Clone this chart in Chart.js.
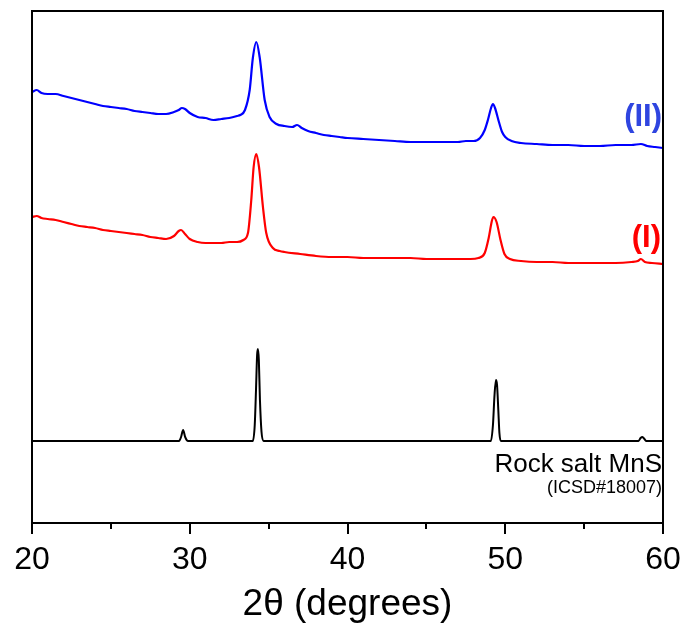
<!DOCTYPE html>
<html>
<head>
<meta charset="utf-8">
<script src="https://cdn.jsdelivr.net/npm/chart.js@4/dist/chart.umd.min.js"></script>
<style>
html,body{margin:0;padding:0;background:#fff;}
#wrap{width:685px;height:627px;}
</style>
</head>
<body>
<div id="wrap"><canvas id="c" width="685" height="627"></canvas></div>
<script>
// 2θ positions (degrees) and intensities (arbitrary units, offset traces)
const blueX = [20.0,20.3,20.6,21.0,21.5,22.0,22.5,23.0,23.5,24.0,24.5,25.0,25.5,26.0,26.5,27.0,27.5,28.0,28.5,29.0,29.3,29.5,29.7,30.0,30.5,31.0,31.5,32.0,32.5,33.0,33.2,33.5,33.8,34.0,34.22,34.43,34.75,35.06,35.5,36.0,36.5,36.8,37.1,37.5,38.0,38.5,39.0,39.5,40.0,41.0,42.0,43.0,44.0,45.0,46.0,47.0,47.5,48.0,48.4,48.7,48.9,49.1,49.22,49.35,49.6,49.8,50.0,50.4,51.0,52.0,53.0,54.0,55.0,56.0,57.0,58.0,58.6,59.0,59.5,60.0];
const blueY = [431,433,430,429,429,427,425,423,421,419,417,416,415,414,412,411,410,409,409,411,413,415,414,410,406,405,403,404,405,407,408,413,433,465,481,466,423,406,399,397,396,398,395,392,390,388,387,386,385,384,383,382,381,381,381,381,382,382,385,393,403,415,419,415,401,391,386,382,380,379,378,378,377,377,378,378,379,377,376,375];

const redX = [20.0,20.3,20.6,21.0,21.5,22.0,22.5,23.0,23.5,24.0,24.5,25.0,25.5,26.0,26.5,27.0,27.5,28.0,28.5,29.0,29.3,29.45,29.7,30.0,30.5,31.0,31.5,32.0,32.5,33.0,33.4,33.69,33.9,34.05,34.22,34.39,34.64,34.85,35.27,35.7,36.0,37.0,38.0,39.0,40.0,41.0,42.0,43.0,44.0,45.0,46.0,47.0,47.8,48.3,48.7,48.95,49.15,49.25,49.45,49.7,49.95,50.3,51.0,52.0,53.0,54.0,55.0,56.0,57.0,58.0,58.4,58.6,58.85,59.3,60.0];
const redY = [306,307,305,304,303,301,299,297,296,295,293,292,291,290,289,288,286,285,284,287,292,293,289,284,281,280,280,280,281,281,283,290,323,356,369,356,316,290,275,272,271,269,267,266,266,265,265,265,265,264,264,264,264,265,270,285,302,306,301,283,269,264,262,261,261,260,260,260,260,261,262,264,261,260,259];

const refX = [20,29.32,29.45,29.58,29.71,29.89,34.0,34.12,34.2,34.27,34.32,34.38,34.45,34.55,34.68,49.09,49.22,49.32,49.41,49.48,49.56,49.63,49.72,58.45,58.58,58.7,58.82,58.95,60];
const refY = [82,82,86,93,86,82,82,98,133,168,174,163,123,91,82,82,98,128,143,138,113,90,82,82,85,86,84,82,82];

const xTickValues = [20,25,30,35,40,45,50,55,60];
const xTickLabels = ['20','','30','','40','','50','','60'];
const labelII = '(II)';
const labelI = '(I)';
const refName = 'Rock salt MnS';
const refCode = '(ICSD#18007)';
const xTitle = '2θ (degrees)';

const pts = (xs, ys) => xs.map((x, i) => ({x: x, y: ys[i]}));

const framePlugin = {
  id: 'frame',
  afterDraw(chart) {
    const {ctx, chartArea: a, scales} = chart;
    const xs = scales.x;
    ctx.save();
    ctx.strokeStyle = '#000';
    ctx.lineWidth = 2;
    ctx.strokeRect(a.left, a.top, a.right - a.left, a.bottom - a.top);
    xTickValues.forEach((v, i) => {
      const px = Math.round(xs.getPixelForValue(v));
      const len = xTickLabels[i] ? 11 : 6;
      ctx.beginPath();
      ctx.moveTo(px, a.bottom);
      ctx.lineTo(px, a.bottom + len);
      ctx.stroke();
    });
    ctx.textAlign = 'right';
    ctx.textBaseline = 'alphabetic';
    ctx.font = 'bold 31px "Liberation Sans", Arial, sans-serif';
    ctx.fillStyle = '#2f45e0';
    ctx.fillText(labelII, a.right - 1, 126);
    ctx.fillStyle = '#ff0000';
    ctx.fillText(labelI, a.right - 2, 247);
    ctx.fillStyle = '#000';
    ctx.font = '26px "Liberation Sans", Arial, sans-serif';
    ctx.fillText(refName, a.right - 1, 472);
    ctx.font = '18px "Liberation Sans", Arial, sans-serif';
    ctx.fillText(refCode, a.right - 1, 493);
    ctx.restore();
  }
};

new Chart(document.getElementById('c'), {
  type: 'line',
  data: {
    datasets: [
      {label: '(II)', data: pts(blueX, blueY), borderColor: '#0000ff', borderWidth: 2.2},
      {label: '(I)', data: pts(redX, redY), borderColor: '#ff0000', borderWidth: 2.2},
      {label: 'Rock salt MnS', data: pts(refX, refY), borderColor: '#000000', borderWidth: 2}
    ]
  },
  options: {
    responsive: false,
    animation: false,
    devicePixelRatio: 1,
    layout: {padding: {left: 32, right: 22, top: 11, bottom: 0}},
    elements: {
      point: {radius: 0},
      line: {cubicInterpolationMode: 'monotone', fill: false}
    },
    plugins: {legend: {display: false}, tooltip: {enabled: false}},
    scales: {
      x: {
        type: 'linear',
        min: 20, max: 60,
        afterFit(s) { s.height = 104; s.paddingLeft = 0; s.paddingRight = 0; },
        afterBuildTicks(s) { s.ticks = xTickValues.map(v => ({value: v})); },
        grid: {display: false, drawTicks: false},
        border: {display: false},
        ticks: {
          autoSkip: false, maxRotation: 0, padding: 18, color: '#000',
          font: {family: '"Liberation Sans", Arial, sans-serif', size: 32},
          callback: (v) => { const i = xTickValues.indexOf(v); return i >= 0 ? xTickLabels[i] : ''; }
        },
        title: {
          display: true, text: xTitle, color: '#000',
          font: {family: '"Liberation Sans", Arial, sans-serif', size: 37},
          padding: {top: 0, bottom: 0}
        }
      },
      y: {
        display: false,
        min: 0, max: 512
      }
    }
  },
  plugins: [framePlugin]
});
</script>
</body>
</html>
